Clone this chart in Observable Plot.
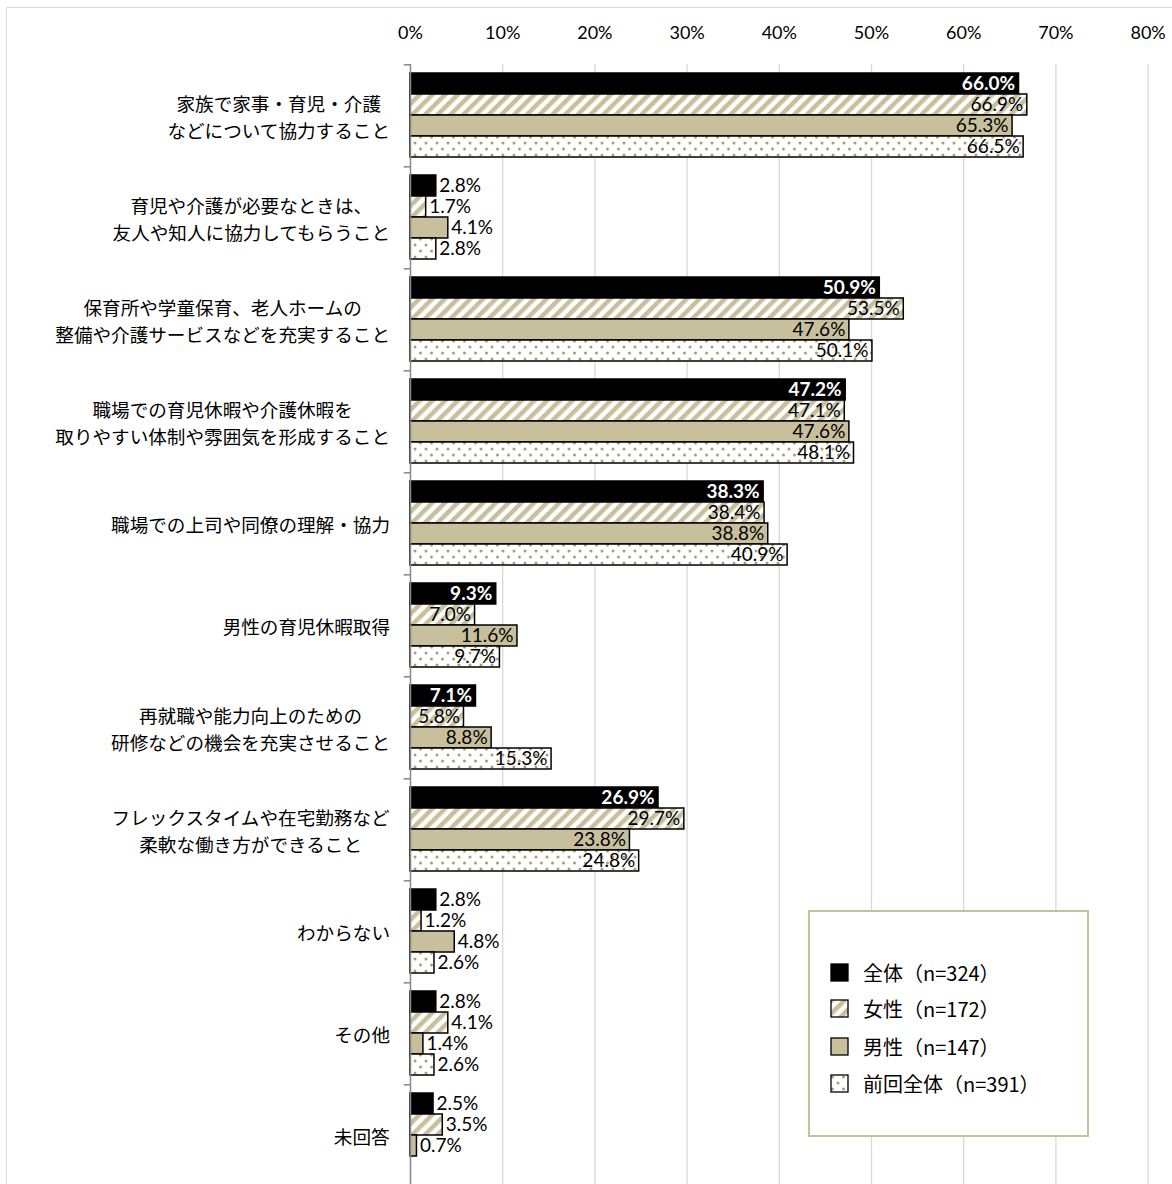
<!DOCTYPE html>
<html><head><meta charset="utf-8">
<script src="https://cdn.jsdelivr.net/npm/d3@7"></script>
<script src="https://cdn.jsdelivr.net/npm/@observablehq/plot@0.6"></script>
<style>
html,body{margin:0;padding:0;overflow:hidden;background:#fff;width:1172px;height:1184px;}
#wrap{position:relative;width:1172px;height:1184px;overflow:hidden;}
#frame{position:absolute;left:6px;top:7px;width:1400px;height:1400px;border:1px solid #d9d9d9;box-sizing:border-box;}
#chart{position:absolute;left:0;top:0;}
#legend{position:absolute;left:808px;top:910px;width:281px;height:227px;border:2px solid #C8BF9C;background:#fff;box-sizing:border-box;font-family:"Noto Sans CJK JP",sans-serif;font-size:20px;color:#000;}
.lrow{position:absolute;left:20px;height:24px;line-height:24px;display:flex;align-items:center;}
.lrow svg{margin-right:13px;}
#defs{position:absolute;width:0;height:0;}
</style>
</head><body>
<svg id="defs" width="0" height="0">
<defs>
<pattern id="stripe" patternUnits="userSpaceOnUse" width="9" height="9" patternTransform="rotate(45)">
<rect x="0" y="0" width="9" height="9" fill="#fff"/>
<rect x="0" y="0" width="4.5" height="9" fill="#C8BF9C"/>
</pattern>
<pattern id="dots" patternUnits="userSpaceOnUse" width="11" height="12">
<rect x="0" y="0" width="11" height="12" fill="#fff"/>
<circle cx="2.5" cy="3" r="1.5" fill="#A89E78"/>
<circle cx="8" cy="9" r="1.5" fill="#A89E78"/>
</pattern>
</defs>
</svg>
<div id="wrap">
<div id="frame"></div>
<div id="chart"></div>
<div id="legend"></div>
</div>
<script>
const categories = [
  "家族で家事・育児・介護\nなどについて協力すること",
  "育児や介護が必要なときは、\n友人や知人に協力してもらうこと",
  "保育所や学童保育、老人ホームの\n整備や介護サービスなどを充実すること",
  "職場での育児休暇や介護休暇を\n取りやすい体制や雰囲気を形成すること",
  "職場での上司や同僚の理解・協力",
  "男性の育児休暇取得",
  "再就職や能力向上のための\n研修などの機会を充実させること",
  "フレックスタイムや在宅勤務など\n柔軟な働き方ができること",
  "わからない",
  "その他",
  "未回答"
];
const series = ["全体", "女性", "男性", "前回全体"];
const legendLabels = ["全体（n=324）", "女性（n=172）", "男性（n=147）", "前回全体（n=391）"];
const zentai  = [66.0, 2.8, 50.9, 47.2, 38.3, 9.3, 7.1, 26.9, 2.8, 2.8, 2.5];
const josei   = [66.9, 1.7, 53.5, 47.1, 38.4, 7.0, 5.8, 29.7, 1.2, 4.1, 3.5];
const dansei  = [65.3, 4.1, 47.6, 47.6, 38.8, 11.6, 8.8, 23.8, 4.8, 1.4, 0.7];
const zenkai  = [66.5, 2.8, 50.1, 48.1, 40.9, 9.7, 15.3, 24.8, 2.6, 2.6, null];
const xTicks = [0, 10, 20, 30, 40, 50, 60, 70, 80];

const seriesValues = [zentai, josei, dansei, zenkai];
const fills = ["#000000", "url(#stripe)", "#C8BF9C", "url(#dots)"];

const rows = categories.flatMap((c, i) =>
  series.map((s, j) => ({category: c, series: s, value: seriesValues[j][i]}))
).filter(d => d.value != null);

const W = 1172, H = 1188, MT = 62;
const fh = (H - MT) / categories.length;
const step = fh / 4.8;
const fmt = d => d.value.toFixed(1) + "%";
const inside = d => d.value >= 5;
const LFS = 19;

const marks = [
  Plot.ruleX(xTicks.filter(t => t > 0), {stroke: "#d9d9d9", strokeWidth: 1.3}),
  Plot.axisX({anchor: "top", ticks: xTicks, tickFormat: d => d + "%", tickSize: 0, tickPadding: 26,
    fontSize: 18, fontFamily: "Lato", fill: "#000", label: null}),
];
series.forEach((s, j) => {
  marks.push(Plot.barX(rows.filter(d => d.series === s), {
    x: "value", y: "series", fy: "category", fill: fills[j],
    stroke: "#000", strokeWidth: 1.5
  }));
});
marks.push(
  Plot.ruleX([0], {stroke: "#868686", strokeWidth: 1.5}),
  Plot.ruleY(categories, {fy: d => d, y: () => series[0], x1: -0.68, x2: 0, dy: -0.9 * step,
    stroke: "#868686", strokeWidth: 1.5}),
  Plot.text(rows.filter(d => inside(d) && d.series === series[0]), {
    x: "value", y: "series", fy: "category", text: fmt, textAnchor: "end", dx: -4,
    fill: "#fff", fontWeight: "bold", fontSize: LFS, fontFamily: "Lato"}),
  Plot.text(rows.filter(d => inside(d) && d.series !== series[0]), {
    x: "value", y: "series", fy: "category", text: fmt, textAnchor: "end", dx: -4,
    fill: "#000", fontSize: LFS, fontFamily: "Lato"}),
  Plot.text(rows.filter(d => !inside(d)), {
    x: "value", y: "series", fy: "category", text: fmt, textAnchor: "start", dx: 3,
    fill: "#000", fontSize: LFS, fontFamily: "Lato"}),
  Plot.axisFy({anchor: "left", tickSize: 0, tickPadding: 20, textAnchor: "middle",
    fontSize: 18.6, fontFamily: "Noto Sans CJK JP", lineHeight: 1.45, fill: "#000", label: null})
);

const chart = Plot.plot({
  width: W, height: H,
  marginTop: MT, marginLeft: 410, marginRight: 24.4, marginBottom: 0,
  style: {background: "transparent", overflow: "visible"},
  x: {domain: [0, 80], axis: null, label: null},
  y: {domain: series, paddingInner: 0, paddingOuter: 0.4, axis: null, label: null},
  fy: {domain: categories, padding: 0, axis: null, label: null},
  marks
});
document.getElementById("chart").appendChild(chart);

// right-align the centered multi-line category labels at x = 390
function alignLabels() {
  const svgRect = chart.getBoundingClientRect();
  chart.querySelectorAll('g[aria-label="fy-axis tick label"] text').forEach(t => {
    const r = t.getBoundingClientRect();
    const delta = (svgRect.left + 390) - r.right;
    const tr = t.getAttribute("transform") || "";
    const m = tr.match(/translate\(([-\d.e]+),\s*([-\d.e]+)\)/);
    if (m) t.setAttribute("transform", `translate(${+m[1] + delta},${m[2]})`);
    else t.setAttribute("transform", `translate(${delta},0)`);
  });
}
alignLabels();

// legend
const legend = document.getElementById("legend");
const rowTops = [49, 85, 123, 160];
series.forEach((s, j) => {
  const row = document.createElement("div");
  row.className = "lrow";
  row.style.top = rowTops[j] + "px";
  row.innerHTML = `<svg width="20" height="20"><rect x="1" y="1" width="17" height="17" fill="${fills[j]}" stroke="#000" stroke-width="1.3"/></svg><span>${legendLabels[j]}</span>`;
  legend.appendChild(row);
});
</script>
</body></html>
